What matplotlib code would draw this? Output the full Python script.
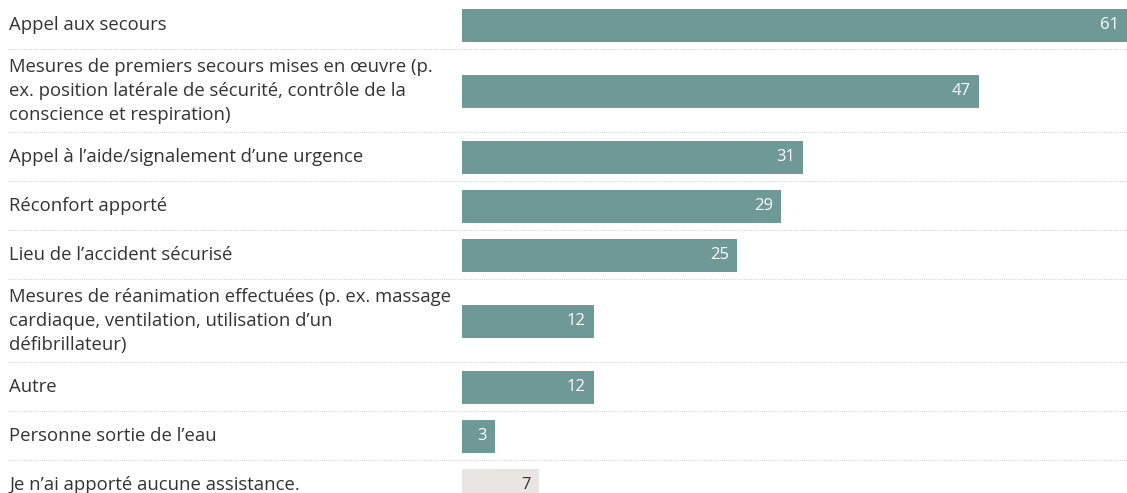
import matplotlib
matplotlib.use('Agg')
import matplotlib.pyplot as plt
import matplotlib.transforms as mtransforms

# Data
categories = [
    'Appel aux secours',
    'Mesures de premiers secours mises en œuvre (p.\nex. position latérale de sécurité, contrôle de la\nconscience et respiration)',
    'Appel à l’aide/signalement d’une urgence',
    'Réconfort apporté',
    'Lieu de l’accident sécurisé',
    'Mesures de réanimation effectuées (p. ex. massage\ncardiaque, ventilation, utilisation d’un\ndéfibrillateur)',
    'Autre',
    'Personne sortie de l’eau',
    'Je n’ai apporté aucune assistance.',
]
values = [61, 47, 31, 29, 25, 12, 12, 3, 7]

plt.rcParams['font.family'] = ['Open Sans', 'DejaVu Sans']

W, H = 1127, 493
fig = plt.figure(figsize=(W / 100, H / 100), dpi=100)
ax = fig.add_axes([0, 0, 1, 1])

# x axis: bars start at pixel 462, about 11 px per unit
x0 = 462
px_per_unit = 11.0
xmax = (W - x0) / px_per_unit
ax.set_xlim(-x0 / px_per_unit, xmax)

# row heights in pixels depend on number of text lines
row_h = [49 + 17 * (c.count('\n')) for c in categories]
tops = []
y = 0
for h in row_h:
    tops.append(y)
    y += h
centers = [t + h / 2 + 0.5 for t, h in zip(tops, row_h)]
ax.set_ylim(H, 0)

teal = '#6e9997'
grey = '#e9e5e2'
colors = [teal] * (len(values) - 1) + [grey]
txt_colors = ['white'] * (len(values) - 1) + ['#333333']

ax.barh(centers, values, height=33, color=colors, left=0)

lab_tr = mtransforms.blended_transform_factory(fig.transFigure, ax.transData)
for c, yc, v, tc in zip(categories, centers, values, txt_colors):
    ax.text(9 / W, yc, c, transform=lab_tr, ha='left', va='center',
            fontsize=13.3, color='#333333', linespacing=1.45)
    # keep the label inside the visible area when the bar runs past the edge
    ax.annotate(str(v), xy=(min(v, xmax), yc), xytext=(-6, 0),
                textcoords='offset points', ha='right', va='center',
                fontsize=12, color=tc)

# dotted separators between rows
for t in tops[1:]:
    ax.axhline(t, xmin=8 / W, xmax=1, color='#d5d5d5', lw=0.8, ls=(0, (1, 1)))

ax.axis('off')
fig.savefig('out.png', dpi=100)
